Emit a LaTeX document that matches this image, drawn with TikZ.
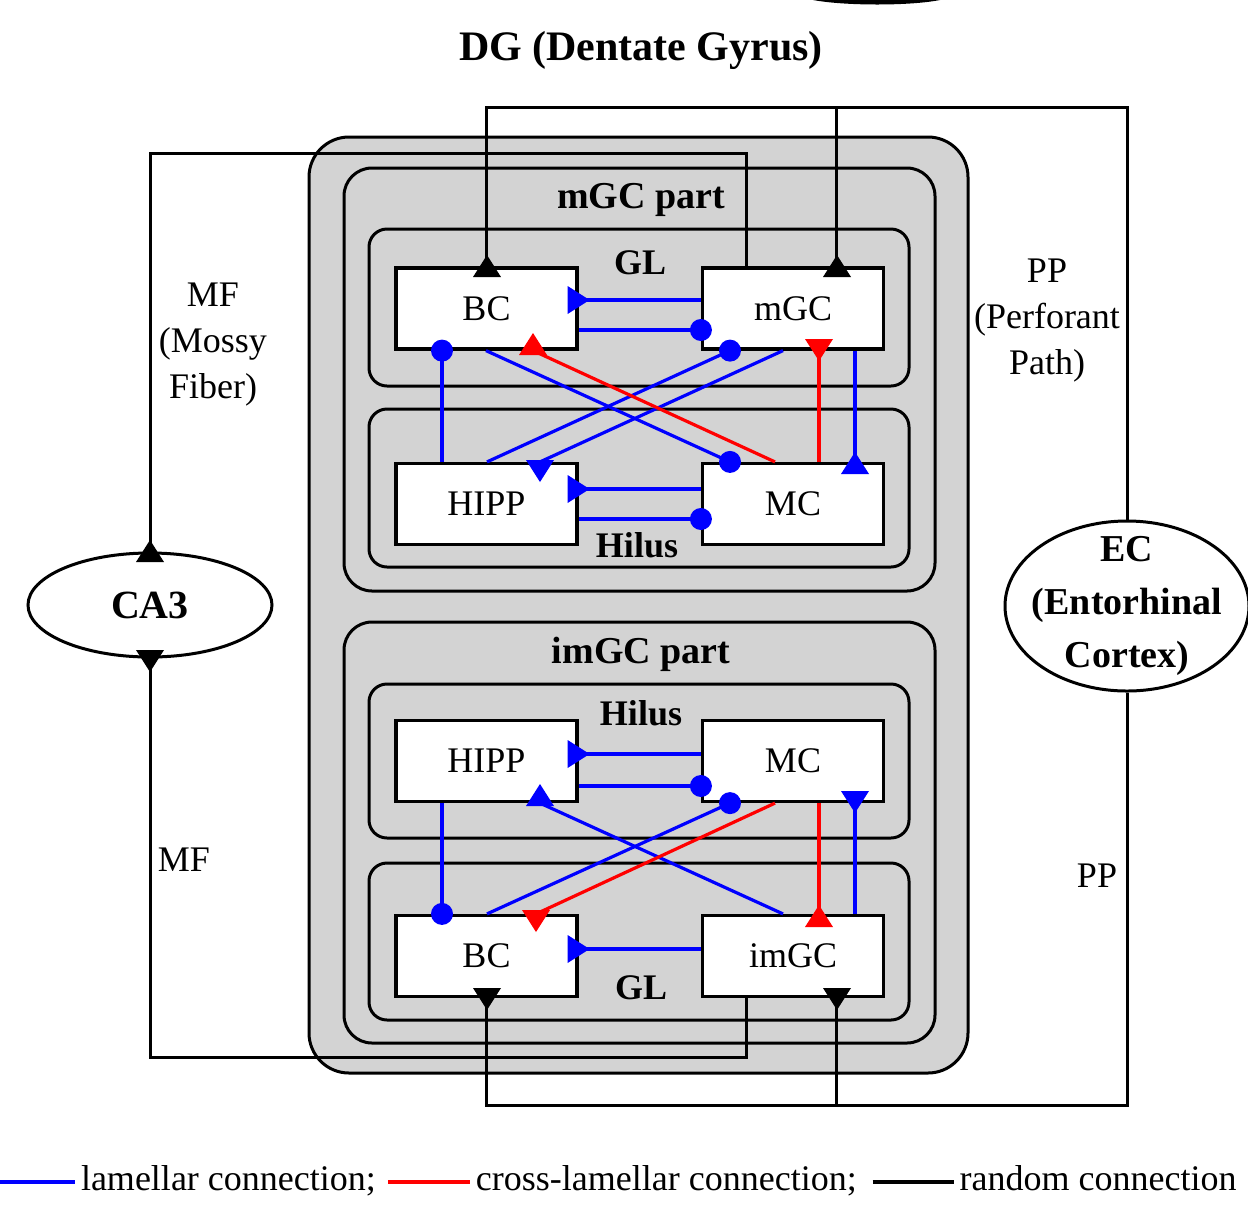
\documentclass[tikz,border=0pt]{standalone}
\usepackage{fontspec}
\setmainfont{Liberation Serif}
\usetikzlibrary{shapes.geometric}

\definecolor{layergray}{RGB}{211,211,211}

% filled synapse marks at the ends of the connections
\newcommand{\triUp}[2]{\fill[#1] (#2) ++(-14,11) -- ++(28,0) -- ++(-14,-22) -- cycle;}
\newcommand{\triDown}[2]{\fill[#1] (#2) ++(-14,-11) -- ++(28,0) -- ++(-14,22) -- cycle;}
\newcommand{\triRight}[2]{\fill[#1] (#2) ++(-11,-14) -- ++(0,28) -- ++(22,-14) -- cycle;}
\newcommand{\dotEnd}[2]{\fill[#1] (#2) circle[radius=11];}

\begin{document}
\begin{tikzpicture}[x=0.5pt, y=-0.5pt,
    lam/.style={blue, line width=1.6pt},
    cross/.style={red, line width=1.6pt},
    rnd/.style={black, line width=1.5pt},
    layer/.style={draw, line width=1.5pt, rounded corners=9pt},
    cell/.style={draw, line width=1.6pt, fill=white, inner sep=0pt,
      minimum width=90.5pt, minimum height=40.5pt,
      font=\fontsize{18}{22}\selectfont},
    tag/.style={font=\bfseries\fontsize{18}{22}\selectfont},
    part/.style={font=\bfseries\fontsize{19}{23}\selectfont},
    path/.style={font=\fontsize{18}{23}\selectfont, align=center},
    key/.style={text=black, font=\fontsize{18}{22}\selectfont, inner sep=2pt,
      text height=12pt, text depth=4pt}]
  \useasboundingbox (0,0) rectangle (1248,1206);

  % piece of a shape cut off by the top edge
  \fill (813,0) .. controls (845,6) and (910,6) .. (940,0) -- cycle;

  % DG layers
  \draw[fill=layergray, line width=1.5pt, rounded corners=20pt] (309,137) rectangle (968,1073);
  \draw[layer, rounded corners=14pt] (344,168) rectangle (935,591);
  \draw[layer, rounded corners=14pt] (344,622) rectangle (935,1043);
  \draw[layer] (369,229) rectangle (909,386);
  \draw[layer] (369,409) rectangle (909,567);
  \draw[layer] (369,684) rectangle (909,838);
  \draw[layer] (369,863) rectangle (909,1020);

  \node[font=\bfseries\fontsize{21}{25}\selectfont] (title) at (641,50) {DG (Dentate Gyrus)};
  \node[part] (mpart) at (641,200) {mGC part};
  \node[tag] (gl1) at (640,263) {GL};
  \node[tag] (hil1) at (637,545) {Hilus};
  \node[part] (impart) at (641,654) {imGC part};
  \node[tag] (hil2) at (641,713) {Hilus};
  \node[tag] (gl2) at (641,988) {GL};

  % cells
  \node[cell] (BC1) at (486.5,308.5) {BC};
  \node[cell] (mGC) at (793,308.5) {mGC};
  \node[cell] (HIPP1) at (486.5,504) {HIPP};
  \node[cell] (MC1) at (793,504) {MC};
  \node[cell] (HIPP2) at (486.5,761) {HIPP};
  \node[cell] (MC2) at (793,761) {MC};
  \node[cell] (BC2) at (486.5,956) {BC};
  \node[cell] (imGC) at (793,956) {imGC};

  % CA3 and EC
  \node[draw, ellipse, line width=1.5pt, inner sep=0pt, minimum width=122pt,
    minimum height=52pt, font=\bfseries\fontsize{20}{24}\selectfont] (CA3) at (150,605) {CA3};
  \node[draw, ellipse, line width=1.5pt, minimum width=122pt, minimum height=85pt] (EC) at (1127,606) {};
  \node[font=\bfseries\fontsize{19}{26.5}\selectfont, align=center] (ECtext) at (EC.center) {EC\\(Entorhinal\\Cortex)};

  \node[path] (mf1) at (213,345) {MF\\(Mossy\\Fiber)};
  \node[path] (mf2) at (184,860) {MF};
  \node[path] (pp1) at (1047,321) {PP\\(Perforant\\Path)};
  \node[path] (pp2) at (1097,876) {PP};

  % random connections
  \coordinate (ppTop) at (836,107);
  \coordinate (ppBot) at (836,1105);
  \draw[rnd] (EC.north) |- (BC1.north |- ppTop) -- (BC1.north);
  \draw[rnd] (ppTop) -- (mGC.north -| ppTop);
  \draw[rnd] (EC.south) |- (BC2.south |- ppBot) -- (BC2.south);
  \draw[rnd] (ppBot) -- (imGC.south -| ppBot);
  \draw[rnd] (mGC.north -| 746,0) |- (CA3.north |- 0,153) -- (CA3.north);
  \draw[rnd] (imGC.south -| 746,0) |- (CA3.south |- 0,1057) -- (CA3.south);

  % mGC part
  \draw[lam] (mGC.west |- 0,300) -- (BC1.east |- 0,300);
  \draw[lam] (BC1.east |- 0,330) -- (mGC.west |- 0,330);
  \draw[lam] (HIPP1.north -| 442,0) -- (BC1.south -| 442,0);
  \draw[lam] (BC1.south -| 486,0) -- (MC1.north -| 730,0);
  \draw[lam] (HIPP1.north -| 487,0) -- (mGC.south -| 730,0);
  \draw[lam] (mGC.south -| 783,0) -- (HIPP1.north -| 540,0);
  \draw[lam] (mGC.south -| 855,0) -- (MC1.north -| 855,0);
  \draw[lam] (MC1.west |- 0,489) -- (HIPP1.east |- 0,489);
  \draw[lam] (HIPP1.east |- 0,519) -- (MC1.west |- 0,519);
  \draw[cross] (MC1.north -| 775,0) -- (BC1.south -| 533,0);
  \draw[cross] (MC1.north -| 819,0) -- (mGC.south -| 819,0);

  % imGC part
  \draw[lam] (MC2.west |- 0,754) -- (HIPP2.east |- 0,754);
  \draw[lam] (HIPP2.east |- 0,786) -- (MC2.west |- 0,786);
  \draw[lam] (HIPP2.south -| 442,0) -- (BC2.north -| 442,0);
  \draw[lam] (imGC.north -| 783,0) -- (HIPP2.south -| 540,0);
  \draw[lam] (BC2.north -| 487,0) -- (MC2.south -| 730,0);
  \draw[lam] (imGC.north -| 855,0) -- (MC2.south -| 855,0);
  \draw[lam] (imGC.west |- 0,949) -- (BC2.east |- 0,949);
  \draw[cross] (MC2.south -| 775,0) -- (BC2.north -| 536,0);
  \draw[cross] (MC2.south -| 819,0) -- (imGC.north -| 819,0);

  % synapses
  \triRight{blue}{BC1.east |- 0,300}
  \dotEnd{blue}{mGC.west |- 0,330}
  \dotEnd{blue}{BC1.south -| 442,0}
  \dotEnd{blue}{MC1.north -| 730,0}
  \dotEnd{blue}{mGC.south -| 730,0}
  \triDown{blue}{540,471}
  \triUp{blue}{855,463}
  \triRight{blue}{HIPP1.east |- 0,489}
  \dotEnd{blue}{MC1.west |- 0,519}
  \triUp{red}{533,344}
  \triDown{red}{819,350}

  \triRight{blue}{HIPP2.east |- 0,754}
  \dotEnd{blue}{MC2.west |- 0,786}
  \dotEnd{blue}{BC2.north -| 442,0}
  \triUp{blue}{540,795}
  \dotEnd{blue}{MC2.south -| 730,0}
  \triDown{blue}{855,802}
  \triRight{blue}{BC2.east |- 0,949}
  \triDown{red}{536,921}
  \triUp{red}{819,916}

  \triUp{black}{487,266}
  \triUp{black}{837,266}
  \triDown{black}{487,999}
  \triDown{black}{837,999}
  \triUp{black}{150,551}
  \triDown{black}{150,661}

  % legend
  \draw[lam, line width=2pt] (0,1182) -- (75,1182) node[key, right] (keyLam) {lamellar connection;};
  \draw[cross, line width=2pt] ([xshift=3pt]keyLam.east) -- ++(82,0) node[key, right] (keyCross) {cross-lamellar connection;};
  \draw[rnd, line width=2pt] ([xshift=5pt]keyCross.east) -- ++(81,0) node[key, right] (keyRnd) {random connection};
\end{tikzpicture}
\end{document}
